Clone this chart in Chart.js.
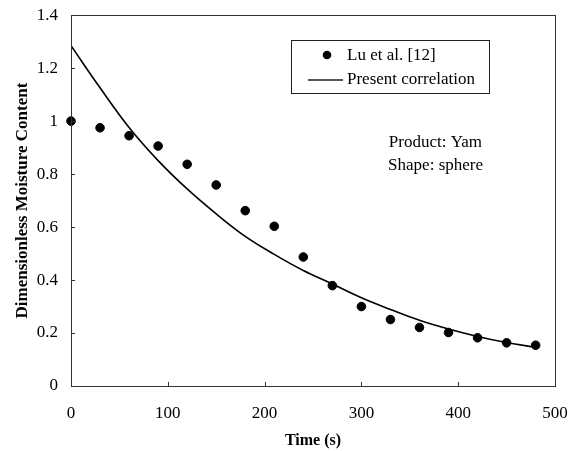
<!DOCTYPE html>
<html>
<head>
<meta charset="utf-8">
<script src="https://cdn.jsdelivr.net/npm/chart.js@4.4.1/dist/chart.umd.min.js"></script>
<style>
  html, body { margin: 0; padding: 0; background: #fff; }
</style>
</head>
<body>
<canvas id="chart" width="580" height="451"></canvas>
<script>
// measured points (Lu et al. [12])
const timeS = [0, 30, 60, 90, 120, 150, 180, 210, 240, 270, 300, 330, 360, 390, 420, 450, 480];
const measured = [1.0, 0.975, 0.945, 0.906, 0.837, 0.759, 0.662, 0.603, 0.487, 0.379, 0.300, 0.251, 0.221, 0.202, 0.182, 0.163, 0.154];

// present correlation curve
const corrTime = [0, 30, 60, 90, 120, 150, 180, 210, 240, 270, 300, 330, 360, 390, 420, 450, 480];
const corrValues = [1.285, 1.126, 0.976, 0.851, 0.744, 0.65, 0.565, 0.497, 0.436, 0.385, 0.333, 0.289, 0.248, 0.215, 0.187, 0.164, 0.146];

const xTicks = [0, 100, 200, 300, 400, 500];
const yTicks = [0, 0.2, 0.4, 0.6, 0.8, 1, 1.2, 1.4];
const seriesNames = ["Lu et al. [12]", "Present correlation"];
const notes = ["Product: Yam", "Shape: sphere"];
const xTitle = "Time (s)";
const yTitle = "Dimensionless Moisture Content";

const FONT = "'Liberation Serif', 'Times New Roman', serif";

const toXY = (xs, ys) => xs.map((x, i) => ({ x: x, y: ys[i] }));

// frame, inward ticks, legend box and the note text
const decorations = {
  id: "decorations",
  afterDraw(chart) {
    const ctx = chart.ctx;
    const a = chart.chartArea;
    const xs = chart.scales.x, ys = chart.scales.y;
    ctx.save();
    ctx.strokeStyle = "#333";
    ctx.lineWidth = 1;
    ctx.strokeRect(Math.round(a.left) + 0.5, Math.round(a.top) + 0.5,
      Math.round(a.right - a.left), Math.round(a.bottom - a.top));

    ctx.beginPath();
    xTicks.forEach(v => {
      const px = Math.round(xs.getPixelForValue(v)) + 0.5;
      ctx.moveTo(px, a.bottom);
      ctx.lineTo(px, a.bottom - 4);
    });
    yTicks.forEach(v => {
      const py = Math.round(ys.getPixelForValue(v)) + 0.5;
      ctx.moveTo(a.left, py);
      ctx.lineTo(a.left + 4, py);
    });
    ctx.stroke();

    // legend
    ctx.strokeStyle = "#222";
    ctx.strokeRect(291.5, 40.5, 198, 53);
    ctx.fillStyle = "#000";
    ctx.beginPath();
    ctx.arc(327, 55, 4.3, 0, Math.PI * 2);
    ctx.fill();
    ctx.lineWidth = 1.5;
    ctx.beginPath();
    ctx.moveTo(308, 80);
    ctx.lineTo(343, 80);
    ctx.stroke();
    ctx.font = "17px " + FONT;
    ctx.textBaseline = "middle";
    ctx.textAlign = "left";
    ctx.fillText(seriesNames[0], 347, 56);
    ctx.fillText(seriesNames[1], 347, 80);

    // notes
    ctx.textAlign = "right";
    ctx.fillText(notes[0], 482, 143);
    ctx.fillText(notes[1], 483, 166);
    ctx.restore();
  }
};

new Chart(document.getElementById("chart"), {
  type: "scatter",
  data: {
    datasets: [
      {
        label: seriesNames[0],
        data: toXY(timeS, measured),
        backgroundColor: "#000",
        borderColor: "#000",
        pointRadius: 4.3,
        pointHoverRadius: 4.3,
        showLine: false,
        clip: false
      },
      {
        label: seriesNames[1],
        data: toXY(corrTime, corrValues),
        borderColor: "#000",
        borderWidth: 1.6,
        pointRadius: 0,
        showLine: true,
        tension: 0.4,
        fill: false
      }
    ]
  },
  options: {
    responsive: false,
    animation: false,
    events: [],
    layout: { padding: { top: 5, right: 25, left: 0, bottom: 0 } },
    plugins: { legend: { display: false }, tooltip: { enabled: false } },
    scales: {
      x: {
        type: "linear",
        min: 0, max: 500,
        afterBuildTicks: s => { s.ticks = xTicks.map(v => ({ value: v })); },
        afterFit: s => { s.height = 65; },
        grid: { display: false },
        border: { display: false },
        ticks: { color: "#000", font: { family: FONT, size: 17 }, padding: 9, maxRotation: 0 },
        title: { display: true, text: xTitle, color: "#000", font: { family: FONT, size: 16, weight: "bold" }, padding: { top: 0, bottom: 1 } }
      },
      y: {
        type: "linear",
        min: 0, max: 1.4,
        afterBuildTicks: s => { s.ticks = yTicks.map(v => ({ value: v })); },
        afterFit: s => { s.width = 71; },
        grid: { display: false },
        border: { display: false },
        ticks: { color: "#000", font: { family: FONT, size: 17 }, padding: 5, callback: v => String(+v.toFixed(1)) },
        title: { display: true, text: yTitle, color: "#000", font: { family: FONT, size: 17, weight: "bold" }, padding: { top: 12 } }
      }
    }
  },
  plugins: [decorations]
});
</script>
</body>
</html>
